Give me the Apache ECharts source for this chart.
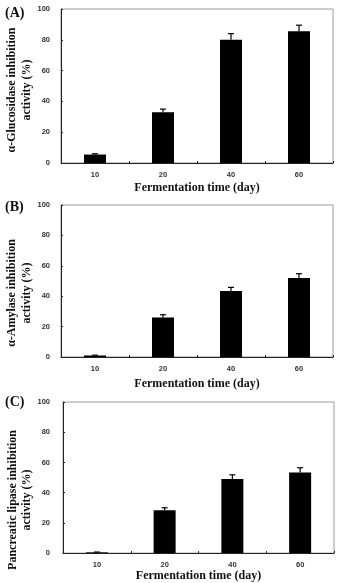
<!DOCTYPE html>
<html><head><meta charset="utf-8">
<script src="https://cdn.jsdelivr.net/npm/echarts@6/dist/echarts.min.js"></script>
<style>html,body{margin:0;padding:0;background:#fff}#c{width:342px;height:583px}</style>
</head><body><div id="c"></div>
<script>
const categories = ['10', '20', '40', '60'];
const glucosidase = [5.5, 33, 80, 85.5];
const glucosidaseErr = [0.5, 2, 4, 4];
const amylase = [1, 26, 43.5, 52];
const amylaseErr = [0.2, 1.8, 2.3, 2.8];
const lipase = [0.5, 28.3, 49, 53.3];
const lipaseErr = [0.2, 1.7, 2.8, 3.2];
const yTicks = [0, 20, 40, 60, 80, 100];
const xTitle = 'Fermentation time (day)';
const panelLabels = ['(A)', '(B)', '(C)'];
const yTitles = [['α-Glucosidase inhibition', 'activity (%)'], ['α-Amylase inhibition', 'activity (%)'], ['Pancreatic lipase inhibition', 'activity (%)']];

const chart = echarts.init(document.getElementById('c'));
const grids = [
  {left: 61, right: 9, top: 9, height: 154},
  {left: 61, right: 9, top: 205, height: 152},
  {left: 63, right: 8, top: 402, height: 154}
];
const serif = '"Liberation Serif", "Times New Roman", serif';
const sans = '"Liberation Sans", Arial, sans-serif';
const values = [glucosidase, amylase, lipase];
const errs = [glucosidaseErr, amylaseErr, lipaseErr];
const nameGaps = [19, 21, 16];
const yLabelMargins = [11, 11, 13];

const xAxes = [], yAxes = [], series = [];
grids.forEach((g, i) => {
  Object.assign(g, {show: true, borderColor: '#9a9a9a', borderWidth: 1, backgroundColor: '#fff'});
  xAxes.push({
    type: 'category', gridIndex: i, data: categories,
    axisLine: {lineStyle: {color: '#222', width: 1}},
    axisTick: {show: true, inside: true, length: 2, lineStyle: {color: '#222'}},
    axisLabel: {color: '#333', fontFamily: sans, fontWeight: 'bold', fontSize: 7.5, margin: 8},
    name: xTitle, nameLocation: 'middle', nameGap: nameGaps[i],
    nameTextStyle: {fontFamily: serif, fontWeight: 'bold', fontSize: 12, color: '#111'}
  });
  yAxes.push({
    type: 'value', gridIndex: i, min: 0, max: 100, interval: 20,
    axisLine: {show: true, lineStyle: {color: '#222', width: 1}},
    axisTick: {show: true, inside: true, length: 2, lineStyle: {color: '#222'}},
    splitLine: {show: false},
    axisLabel: {color: '#333', fontFamily: sans, fontWeight: 'bold', fontSize: 7.5, margin: yLabelMargins[i],
      formatter: v => yTicks.includes(v) ? String(v) : ''}
  });
  series.push({
    type: 'bar', xAxisIndex: i, yAxisIndex: i, data: values[i], barWidth: 22,
    itemStyle: {color: '#000'}
  });
  series.push({
    type: 'custom', xAxisIndex: i, yAxisIndex: i,
    data: values[i].map((v, k) => [k, v, errs[i][k]]),
    renderItem: (params, api) => {
      const x = api.value(0), y = api.value(1), e = api.value(2);
      const p0 = api.coord([x, y]);
      const p1 = api.coord([x, y + e]);
      const st = {stroke: '#000', lineWidth: 1.2};
      return {type: 'group', children: [
        {type: 'line', shape: {x1: p0[0], y1: p0[1], x2: p1[0], y2: p1[1]}, style: st},
        {type: 'line', shape: {x1: p1[0] - 3, y1: p1[1], x2: p1[0] + 3, y2: p1[1]}, style: st}
      ]};
    },
    z: 3
  });
});

const graphic = [];
const labelY = [14, 208, 403];
const titleCenterY = [90, 293, 500];
const titleX = [[12, 27], [12, 27], [13, 27]];
panelLabels.forEach((t, i) => {
  graphic.push({type: 'text', left: 5, top: labelY[i] - 8,
    style: {text: t, font: 'bold 14px ' + serif, fill: '#111'}});
  yTitles[i].forEach((line, j) => {
    graphic.push({type: 'text', x: titleX[i][j], y: titleCenterY[i], rotation: Math.PI / 2,
      style: {text: line, font: 'bold 12px ' + serif, fill: '#111', textAlign: 'center', textVerticalAlign: 'middle'}});
  });
});

chart.setOption({
  animation: false,
  grid: grids, xAxis: xAxes, yAxis: yAxes, series: series, graphic: graphic
});
</script></body></html>
